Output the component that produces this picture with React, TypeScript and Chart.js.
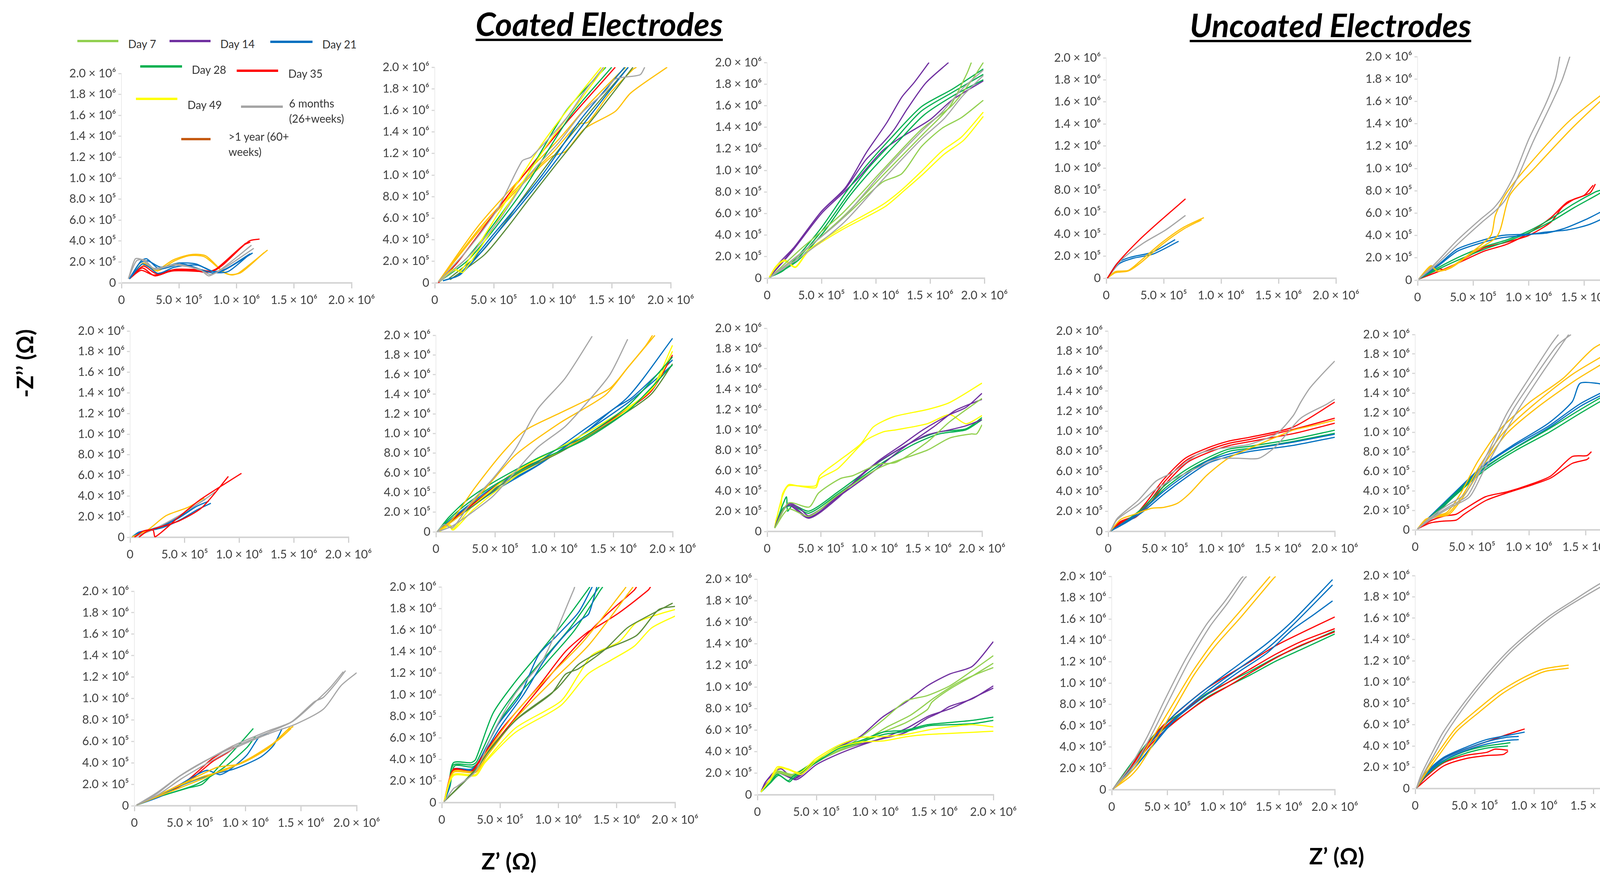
import React, { useEffect, useRef } from 'react';
import { Chart, registerables } from 'chart.js';

Chart.register(...registerables);

// Values are in units of 10^5 Ω (Z' on x, -Z'' on y)
const COLORS: Record<string, string> = {
  d7: '#92D050',
  d14: '#7030A0',
  d21: '#0070C0',
  d28: '#00B050',
  d35: '#FF0000',
  d49: '#FFFF00',
  m6: '#A5A5A5',
  y1: '#C55A11',
  gold: '#FFC000',
  olive: '#5B8C3A',
};

const legendItems = [
  { key: 'd7', label: ['Day 7'] },
  { key: 'd14', label: ['Day 14'] },
  { key: 'd21', label: ['Day 21'] },
  { key: 'd28', label: ['Day 28'] },
  { key: 'd35', label: ['Day 35'] },
  { key: 'd49', label: ['Day 49'] },
  { key: 'm6', label: ['6 months', '(26+weeks)'] },
  { key: 'y1', label: ['>1 year (60+', 'weeks)'] },
];

const xTickValues = [0, 5, 10, 15, 20];
const xTickLabels = ['0', '5.0 × 10⁵', '1.0 × 10⁶', '1.5 × 10⁶', '2.0 × 10⁶'];
const yTickValues = [0, 2, 4, 6, 8, 10, 12, 14, 16, 18, 20];
const yTickLabels = ['0', '2.0 × 10⁵', '4.0 × 10⁵', '6.0 × 10⁵', '8.0 × 10⁵', '1.0 × 10⁶', '1.2 × 10⁶', '1.4 × 10⁶', '1.6 × 10⁶', '1.8 × 10⁶', '2.0 × 10⁶'];

type Line = [string, number[][]];

// ---------- Coated electrodes ----------
const panel1: Line[] = [
  ['m6', [[0.6,0.4],[1.2,2.3],[1.8,2.2],[2.8,1.4],[4.6,1.7],[6.8,1.3],[7.6,0.67],[8.9,1.5],[11.3,3.6]]],
  ['m6', [[0.6,0.4],[1.3,2.1],[2.0,2.2],[2.9,1.3],[4.8,1.8],[6.9,1.2],[7.8,0.8],[9.2,1.6],[11.5,3.3]]],
  ['d21', [[0.67,0.38],[1.7,2.1],[2.2,2.3],[3.3,1.33],[5.3,1.8],[7.9,0.95],[8.9,1.2],[11.4,2.86]]],
  ['d21', [[0.7,0.4],[1.6,1.9],[2.3,2.1],[3.4,1.5],[5.0,1.9],[6.5,1.8],[7.9,1.1],[9.0,1.3],[11.2,2.8]]],
  ['d21', [[0.7,0.4],[1.8,1.8],[2.4,1.5],[3.2,0.9],[4.6,1.5],[6.6,1.7],[8.2,1.0],[9.3,1.1],[11.0,2.6]]],
  ['d35', [[0.7,0.4],[1.8,1.43],[2.9,0.67],[4.6,1.24],[6.8,1.14],[7.6,1.05],[8.5,1.52],[11.1,4.0],[12.0,4.19]]],
  ['d35', [[0.7,0.4],[1.9,1.6],[3.0,0.9],[4.7,1.3],[6.9,1.25],[7.9,1.1],[8.8,1.7],[10.8,3.8]]],
  ['d35', [[0.7,0.4],[1.7,1.2],[2.8,0.75],[4.5,1.15],[6.7,1.1],[7.4,1.0],[8.2,1.3],[10.6,3.6],[11.2,3.9]]],
  ['gold', [[0.8,0.5],[1.9,1.9],[3.1,1.14],[4.6,2.1],[5.9,2.6],[7.2,2.5],[8.9,1.0],[9.6,0.76],[10.2,0.95],[12.7,3.14]]],
  ['gold', [[0.8,0.5],[2.0,1.7],[3.0,1.2],[4.5,2.2],[6.0,2.7],[7.3,2.6],[8.7,1.2],[9.4,0.8],[10.4,1.0],[12.4,2.9]]],
];

const panel2: Line[] = [
  ['m6', [[0.3,0.1],[2.8,3.1],[5.3,6.8],[7.4,11.3],[8.2,11.7],[11.1,15.2],[12.8,17.9],[14.3,20]]],
  ['m6', [[0.4,0.1],[3.0,2.6],[5.5,5.9],[8.0,10.0],[10.5,13.0],[12.5,15.8],[14.5,17.8],[15.3,18.9],[17.4,19.3],[17.8,20]]],
  ['d49', [[0.4,0.1],[1.6,1.3],[2.2,1.1],[5.3,6.3],[9.1,12.9],[12.2,17.4],[14.1,20]]],
  ['d49', [[0.4,0.1],[1.7,1.2],[2.4,1.0],[5.6,6.2],[9.4,12.6],[12.5,17.2],[14.4,20]]],
  ['d28', [[0.4,0.2],[2.8,2.4],[7.0,8.5],[11.1,15.9],[14.5,20]]],
  ['d28', [[0.5,0.2],[3.0,2.3],[7.3,8.3],[11.5,15.5],[15.0,20]]],
  ['d35', [[0.3,0],[2.0,2.0],[6.6,8.7],[11.1,14.8],[15.3,20]]],
  ['d21', [[0.7,0.2],[2.0,0.7],[4.9,4.4],[9.1,10],[12.4,15.2],[16.1,20]]],
  ['d21', [[0.7,0.2],[2.2,0.8],[5.2,4.5],[9.4,10.1],[12.8,15.0],[16.4,20]]],
  ['olive', [[1.2,0.4],[3.9,2.8],[5.9,5.5],[7.4,7.8],[9.9,11.5],[13.2,15.9],[16.4,20]]],
  ['olive', [[1.3,0.3],[4.2,2.6],[6.2,5.2],[7.8,7.5],[10.3,11.0],[13.6,15.5],[16.8,20]]],
  ['gold', [[0.3,0.1],[3.9,5.0],[7.4,9.1],[9.9,11.7],[11.1,12.2],[12.7,14.3],[15.3,15.9],[16.6,17.6],[19.7,20]]],
  ['gold', [[0.3,0.1],[3.9,5.2],[7.4,9.3],[10.1,12.2],[12.1,14.7],[13,14.9],[14.7,17.4],[16.8,19.8],[17.1,20]]],
  ['gold', [[0.3,0.1],[3.7,5.3],[7.2,9.6],[10.5,13.3],[13.0,16.5],[15.5,19.3],[16.2,20]]],
];

const panel3: Line[] = [
  ['m6', [[0.3,0.1],[3.2,2.4],[6.9,5.5],[10.6,9.8],[14.2,13.6],[16.1,15.4],[17.9,17.5],[19.9,19.3]]],
  ['m6', [[0.3,0.1],[3.4,2.2],[7.1,5.2],[10.8,9.3],[14.2,12.9],[16.3,14.8],[18.0,16.9],[19.9,18.8]]],
  ['d7', [[0.3,0.1],[3.2,2.8],[6.9,6.0],[10.6,10.0],[14.2,13.8],[17.0,16.0],[18.8,18.3],[19.9,20]]],
  ['d7', [[0.3,0.1],[3.2,2.4],[6.9,5.5],[10.6,8.9],[12.4,9.7],[14.2,12.2],[16.1,13.9],[17.9,14.9],[19.9,16.5]]],
  ['d7', [[0.3,0.1],[3.4,2.5],[7.1,5.8],[10.8,9.7],[14.4,13.4],[16.8,15.9],[18.4,19.0],[18.8,20]]],
  ['d49', [[0.2,0.1],[0.8,1.1],[1.6,1.7],[2.6,1.05],[3.8,2.6],[6.9,4.7],[10.6,6.8],[12.4,8.2],[14.2,9.9],[16.1,11.8],[17.9,13.1],[19.9,15.4]]],
  ['d49', [[0.2,0.1],[0.8,1.0],[1.6,1.6],[2.6,1.0],[3.8,2.5],[6.9,4.5],[10.8,6.6],[12.7,8.2],[14.4,9.7],[16.3,11.5],[18.1,12.8],[19.9,15.0]]],
  ['d28', [[0.2,0.1],[1.4,0.65],[2.7,1.9],[5.0,4.7],[7.2,7.9],[9.1,10.4],[11.5,13.1],[14.2,15.9],[17.0,17.5],[19.9,19.4]]],
  ['d28', [[0.2,0.1],[1.3,0.6],[2.8,1.8],[5.2,4.6],[7.4,7.7],[9.3,10.2],[11.7,12.8],[14.2,15.5],[17.0,17.2],[19.9,18.9]]],
  ['d28', [[0.2,0.1],[1.4,0.7],[2.9,1.7],[5.3,4.4],[7.5,7.5],[9.5,9.9],[11.9,12.5],[14.4,15.1],[17.1,16.9],[19.9,18.4]]],
  ['d14', [[0.2,0.1],[1.0,1.3],[2.5,2.9],[5.0,6.2],[7.2,8.4],[9.1,11.6],[11.0,14.4],[12.4,16.8],[13.5,18.1],[14.9,20]]],
  ['d14', [[0.2,0.1],[2.3,2.6],[5.0,6.2],[7.2,8.3],[9.1,11.0],[10.6,12.5],[11.7,13.8],[12.9,15.7],[14.6,18.1],[16.7,20]]],
  ['d14', [[0.2,0.1],[2.3,2.5],[5.0,6.0],[7.2,8.1],[8.3,9.2],[10.6,11.8],[12.4,13.1],[15.0,14.7],[17.0,16.5],[19.9,18.3]]],
];

const panel6: Line[] = [
  ['d35', [[0.4,0],[1.2,0.6],[2.1,0.7],[2.3,0.05],[4.5,2.0],[6.5,3.7],[10.2,6.2]]],
  ['d35', [[0.8,0],[1.6,0.6],[4.5,1.6],[6.6,2.9],[9.0,5.9]]],
  ['m6', [[0.4,0.05],[2.0,0.7],[4.5,2.1],[7.0,3.8],[7.8,4.4]]],
  ['gold', [[0.2,0.05],[1.6,0.7],[3.3,2.1],[5.3,2.9],[6.8,3.8]]],
  ['d21', [[0.2,0.05],[0.8,0.5],[1.6,0.65],[2.9,1.06],[4.5,1.9],[6.1,3.0],[7.2,3.5]]],
  ['d21', [[0.2,0.05],[0.8,0.45],[1.6,0.6],[3.0,0.95],[4.6,1.7],[6.2,2.7],[7.4,3.3]]],
  ['d21', [[0.2,0.05],[0.9,0.5],[1.7,0.7],[3.1,1.2],[4.7,2.1],[6.0,3.1],[6.9,3.7]]],
];

const panel7: Line[] = [
  ['m6', [[0.1,0],[0.7,0.75],[1.4,0.4],[3.0,3.05],[4.8,5.4],[6.7,8.4],[8.6,12.5],[10.9,15.6],[13.2,19.9]]],
  ['m6', [[0.1,0],[1.4,0.6],[3.3,2.2],[4.8,3.6],[6.7,6.1],[8.6,8.6],[10.9,10.7],[12.8,13.2],[14.7,16.0],[16.2,19.6]]],
  ['gold', [[0.1,0],[1.4,1.3],[3.3,4.5],[5.6,8.0],[7.5,10.3],[10.5,12.1],[12.4,13.2],[14.7,14.6],[16.2,16.7],[18.5,20]]],
  ['gold', [[0.1,0],[1.8,1.45],[4.1,4.3],[6.7,7.8],[10.5,11.1],[14.3,13.9],[16.2,16.7],[17.7,18.9],[18.3,20]]],
  ['d28', [[0.1,0],[1.1,1.5],[2.6,3.2],[4.8,5.0],[8.6,7.5],[12.4,9.6],[16.2,12.8],[20,17.8]]],
  ['d28', [[0.1,0],[1.2,1.4],[2.8,3.0],[5.0,4.8],[8.8,7.3],[12.6,9.4],[16.4,12.5],[20,17.0]]],
  ['olive', [[0.1,0],[3.0,2.5],[6.7,5.8],[10.5,8.1],[14.3,10.8],[18.1,13.9],[20,17.1]]],
  ['d49', [[0.3,0],[1.1,0.75],[1.4,0.2],[3.0,2.5],[6.7,6.1],[10.5,8.6],[14.3,11.2],[18.1,14.4],[20,19.0]]],
  ['d49', [[0.3,0],[1.2,0.7],[1.5,0.2],[3.2,2.3],[6.9,5.8],[10.7,8.3],[14.5,11.0],[18.3,14.6],[20,18.4]]],
  ['d35', [[0.1,0],[3.0,2.7],[6.7,6.1],[10.5,8.2],[14.3,11.0],[18.1,14.2],[20,18.0]]],
  ['d21', [[0.1,0],[1.8,1.8],[4.8,4.5],[8.6,7.1],[12.4,10.3],[16.2,13.7],[20,19.7]]],
  ['d21', [[0.1,0],[1.8,1.7],[4.8,4.3],[8.6,6.8],[12.4,9.9],[15.0,12.5],[16.5,13.6],[18.5,15.8],[20,17.5]]],
  ['d21', [[0.1,0],[1.9,1.6],[5.0,4.2],[8.8,6.9],[12.6,10.1],[16.4,13.3],[20,17.0]]],
];

const panel8: Line[] = [
  ['d7', [[0.7,0.34],[2.0,2.8],[3.9,2.4],[4.8,3.8],[6.8,5.2],[8.0,5.5],[10.3,6.6],[12.0,6.8],[14.9,8.8],[17.0,10.8],[20,13.1]]],
  ['d7', [[0.7,0.34],[2.0,2.2],[3.9,1.5],[6.6,3.6],[10.5,6.3],[14.9,8.0],[17.0,9.2],[19.0,9.6],[19.5,9.6],[20,10.5]]],
  ['d14', [[0.7,0.34],[1.15,1.5],[2.0,2.8],[3.0,2.3],[3.9,1.55],[6.6,3.5],[10.3,6.9],[12.5,8.5],[14.5,10.0],[17.0,11.5],[18.5,12.2],[20,13.6]]],
  ['d14', [[0.7,0.34],[1.15,1.5],[2.0,2.6],[3.9,1.3],[6.6,3.3],[9.1,5.9],[11.8,7.8],[14.9,9.5],[17.0,10.0],[18.5,10.4],[20,11.0]]],
  ['d14', [[0.7,0.34],[2.0,2.7],[3.9,1.4],[6.6,3.4],[10.0,6.0],[12.5,8.1],[15.5,10.3],[17.5,11.9],[20,13.0]]],
  ['d28', [[0.7,0.34],[1.4,2.5],[1.8,3.4],[1.9,2.0],[2.4,2.6],[3.9,2.0],[6.6,3.9],[10.5,6.9],[13.5,8.8],[16.0,9.8],[18.5,10.1],[20,11.2]]],
  ['d28', [[0.7,0.34],[1.5,2.3],[2.4,2.5],[3.9,1.8],[6.6,3.7],[10.5,6.6],[13.5,8.5],[16.0,9.6],[18.5,10.0],[20,11.0]]],
  ['d49', [[0.7,0.34],[0.9,1.37],[1.25,1.7],[1.4,3.6],[2.0,4.6],[2.8,4.5],[4.5,4.5],[4.9,5.5],[6.6,6.9],[8.7,8.6],[9.9,10.3],[11.8,11.3],[14.9,12.0],[17.0,12.7],[20,14.6]]],
  ['d49', [[0.7,0.34],[0.9,1.37],[1.4,3.4],[2.0,4.5],[4.5,4.3],[4.9,5.2],[6.6,6.2],[9.1,8.9],[10.8,9.8],[12.0,10.0],[14.9,10.6],[17.0,11.5],[18.5,10.6],[20,11.4]]],
];

const panel11: Line[] = [
  ['m6', [[0.2,0.07],[2.0,1.1],[4.0,2.7],[6.1,4.0],[8.9,5.6],[12.1,7.0],[14.1,7.8],[16.2,9.7],[17.0,10.1],[18.2,11.5],[19.0,12.6]]],
  ['m6', [[0.2,0.07],[2.1,1.0],[4.2,2.5],[6.3,3.8],[9.1,5.4],[12.3,6.8],[14.5,7.6],[17.0,9.0],[18.6,11.2],[20,12.4]]],
  ['m6', [[0.2,0.07],[2.0,1.2],[4.1,2.8],[6.2,4.1],[9.0,5.5],[12.2,6.9],[14.3,7.9],[16.4,9.8],[17.6,11.0],[18.8,12.5]]],
  ['gold', [[0.2,0.07],[3.2,1.3],[6.1,2.5],[8.1,3.4],[9.7,4.0],[12.1,5.4],[13.7,7.0],[14.3,7.4]]],
  ['gold', [[0.2,0.07],[3.2,1.5],[6.1,2.7],[8.1,3.3],[10.5,4.5],[12.9,6.1],[14.1,7.2]]],
  ['gold', [[0.2,0.07],[3.0,1.4],[6.0,2.9],[7.5,3.6],[9.5,3.9],[11.8,5.2],[13.3,6.6],[14.0,7.3]]],
  ['d21', [[0.2,0.07],[2.4,0.9],[4.8,2.4],[6.5,3.3],[7.7,2.9],[8.5,3.3],[10.1,4.7],[11.3,6.5],[12.1,6.7]]],
  ['d21', [[0.2,0.07],[4.0,1.8],[6.9,2.9],[8.9,3.4],[11.3,4.5],[12.5,5.6],[13.3,7.2]]],
  ['d28', [[0.2,0.07],[2.4,0.9],[4.8,1.65],[6.1,2.0],[7.3,3.3],[8.9,5.1],[10.7,7.2]]],
  ['d28', [[0.2,0.07],[2.4,0.9],[5.6,2.0],[8.1,3.6],[10.1,5.4],[10.9,6.5]]],
  ['d35', [[0.2,0.07],[2.4,1.1],[4.8,2.4],[6.9,4.3],[8.1,5.1],[8.9,5.6]]],
  ['d35', [[0.2,0.07],[2.5,1.0],[4.9,2.3],[7.0,4.1],[8.3,4.9],[9.0,5.4]]],
];

const panel12: Line[] = [
  ['m6', [[0.2,0.1],[1.0,1.3],[1.3,1.5],[2.9,2.9],[4.4,6.5],[6.3,10.1],[8.7,13.3],[11.3,19.7],[11.4,20]]],
  ['olive', [[0.2,0.1],[2.9,3.1],[4.0,4.7],[6.3,7.6],[9.4,10.1],[10.6,11.9],[11.7,12.4],[14.0,14.2],[15.9,16.2],[17.5,17.2],[19.8,18.5]]],
  ['olive', [[0.2,0.1],[2.9,3.0],[4.3,5.2],[6.7,8.0],[9.8,10.5],[11.7,12.8],[14.0,14.2],[16.7,15.5],[18.6,17.9],[20,18.2]]],
  ['d49', [[0.2,0.1],[1.0,2.6],[2.9,2.6],[3.7,3.8],[6.3,6.9],[10.2,9.4],[11.7,11.8],[12.9,13.7],[15.2,14.9],[16.7,16.7],[19.0,17.6],[20,17.9]]],
  ['d49', [[0.2,0.1],[1.0,2.5],[2.9,2.5],[3.7,3.7],[6.3,6.5],[10.2,9.0],[12.5,11.9],[14.5,13.2],[16.5,14.5],[18.0,16.2],[20,17.3]]],
  ['gold', [[0.2,0.1],[1.0,2.9],[2.9,2.9],[3.7,4.4],[6.3,8.3],[9.0,11.5],[12.1,14.9],[15.6,19.7],[15.8,20]]],
  ['gold', [[0.2,0.1],[1.0,2.8],[2.9,2.8],[3.8,4.2],[6.5,8.0],[9.4,11.2],[12.6,14.6],[16.2,19.7],[16.4,20]]],
  ['d35', [[0.2,0.1],[1.0,3.1],[2.5,2.9],[3.1,3.7],[5.2,6.9],[8.3,10.8],[10.6,14.0],[12.5,15.8],[13.3,16.3],[15.2,17.6],[17.7,19.7],[17.9,20]]],
  ['d35', [[0.2,0.1],[1.0,3.0],[2.5,2.8],[3.1,3.6],[5.5,6.8],[8.6,10.9],[11.5,14.5],[14.0,17.3],[16.5,19.7],[16.7,20]]],
  ['d21', [[0.2,0.1],[0.6,1.3],[1.0,3.1],[2.5,3.1],[3.1,3.7],[4.8,7.2],[6.7,9.9],[8.3,13.7],[9.8,15.4],[11.7,17.6],[12.9,20]]],
  ['d21', [[0.2,0.1],[0.6,1.2],[1.0,3.0],[2.5,3.0],[3.1,3.6],[5.0,7.0],[7.0,10.0],[8.8,13.2],[10.6,15.6],[12.0,17.0],[12.6,17.5],[13.3,20]]],
  ['d28', [[0.2,0.1],[0.6,1.7],[1.0,3.7],[2.5,3.7],[2.9,4.0],[4.4,8.3],[6.3,11.2],[8.3,13.8],[10.6,16.9],[12.5,19.7],[12.7,20]]],
  ['d28', [[0.2,0.1],[0.6,1.6],[1.0,3.5],[2.6,3.5],[3.0,3.8],[4.8,7.9],[6.7,10.8],[8.7,13.3],[11.0,16.2],[13.3,19.7],[13.5,20]]],
  ['d28', [[0.2,0.1],[0.7,1.5],[1.1,3.4],[2.6,3.3],[3.1,3.7],[5.0,7.6],[7.0,10.5],[9.0,13.0],[11.4,16.0],[13.6,19.7],[13.8,20]]],
];

const panel13: Line[] = [
  ['d49', [[0.3,0.27],[1.1,1.5],[1.7,2.6],[2.6,2.4],[3.6,2.05],[4.9,3.3],[6.8,4.55],[8.7,5.3],[10.6,5.4],[12.6,5.6],[14.4,6.0],[16.3,6.3],[18.2,6.5],[20,6.3]]],
  ['d49', [[0.3,0.27],[1.1,1.4],[1.8,2.5],[2.7,2.3],[3.7,1.9],[5.0,3.2],[6.9,4.4],[8.8,4.9],[10.7,5.0],[12.7,5.4],[14.5,5.6],[16.4,5.7],[18.3,5.8],[20,5.9]]],
  ['d28', [[0.3,0.27],[1.1,1.16],[1.7,1.9],[2.6,1.3],[3.0,1.7],[4.9,3.1],[6.8,4.4],[8.7,5.0],[10.6,5.8],[12.6,6.0],[14.4,6.5],[16.3,6.7],[18.2,6.9],[20,7.2]]],
  ['d28', [[0.3,0.27],[1.1,1.1],[1.8,1.8],[2.7,1.2],[3.1,1.6],[5.0,3.0],[6.9,4.3],[8.8,4.9],[10.7,5.6],[12.7,5.9],[14.5,6.4],[16.4,6.5],[18.3,6.6],[20,6.9]]],
  ['d7', [[0.3,0.27],[1.1,1.16],[1.7,2.2],[3.0,1.9],[4.9,3.1],[6.8,4.0],[8.7,5.3],[10.6,6.9],[12.6,8.7],[14.4,9.2],[16.3,10.1],[18.2,11.5],[20,12.9]]],
  ['d7', [[0.3,0.27],[1.7,2.1],[3.0,1.8],[4.9,3.1],[6.8,4.0],[8.7,4.8],[10.6,5.8],[12.6,6.7],[14.4,7.9],[14.8,8.6],[16.3,9.8],[18.2,11.0],[20,12.2]]],
  ['d7', [[0.3,0.27],[1.7,2.0],[3.0,1.7],[5.0,3.0],[7.0,4.2],[9.0,5.0],[11.0,6.3],[13.0,7.4],[15.0,9.0],[17.0,10.4],[18.6,11.2],[20,11.8]]],
  ['d14', [[0.3,0.27],[0.7,1.2],[1.5,2.2],[2.05,2.4],[3.0,1.5],[3.4,1.7],[4.9,3.1],[6.8,4.4],[8.7,5.4],[10.6,7.2],[12.6,8.6],[14.4,10.1],[16.3,11.2],[18.2,11.9],[20,14.2]]],
  ['d14', [[0.3,0.27],[0.7,1.2],[1.7,2.1],[3.2,1.5],[4.9,2.95],[6.8,4.0],[8.7,4.7],[10.6,5.2],[12.6,5.8],[14.4,7.1],[15.4,7.6],[16.3,8.2],[18.2,8.9],[20,10.1]]],
  ['d14', [[0.3,0.27],[0.8,1.1],[1.8,2.0],[3.3,1.4],[5.0,2.8],[6.9,3.8],[8.8,4.6],[10.7,5.3],[12.7,6.2],[14.5,7.3],[16.4,8.0],[18.3,9.0],[20,9.9]]],
];

// ---------- Uncoated electrodes ----------
const panel4: Line[] = [
  ['d35', [[0.1,0],[1.0,1.4],[2.9,3.5],[4.8,5.3],[6.9,7.2]]],
  ['m6', [[0.1,0],[1.35,1.7],[3.25,3.2],[5.2,4.4],[6.9,5.7]]],
  ['gold', [[0.2,0.1],[0.8,0.6],[1.9,0.7],[2.9,1.5],[4.8,3.2],[6.7,4.6],[8.5,5.5]]],
  ['gold', [[0.2,0.1],[0.8,0.5],[1.9,0.65],[3.0,1.4],[4.9,3.1],[6.8,4.5],[8.3,5.3]]],
  ['d21', [[0.1,0],[1.0,1.4],[2.1,1.9],[4.0,2.35],[6.0,3.5]]],
  ['d21', [[0.1,0],[1.1,1.3],[2.3,1.8],[4.1,2.2],[6.3,3.35]]],
];

const panel5: Line[] = [
  ['m6', [[0.1,0.1],[1.6,1.5],[3.6,3.6],[5.6,5.4],[6.8,6.4],[7.6,7.4],[8.7,9.4],[10.0,12.6],[11.5,15.7],[12.4,18.0],[12.8,20]]],
  ['m6', [[0.1,0.1],[1.7,1.4],[3.8,3.4],[5.8,5.2],[7.0,6.2],[7.9,7.2],[9.0,9.2],[10.4,12.4],[11.9,15.5],[13.0,17.9],[13.7,20]]],
  ['gold', [[0.1,0.1],[1.2,1.3],[1.8,0.8],[3.0,1.2],[5.0,2.6],[6.6,4.0],[7.0,5.8],[8.0,7.8],[10.0,10.3],[13.5,14.1],[16.7,16.7],[20,19.0]]],
  ['gold', [[0.1,0.1],[1.2,1.2],[1.8,0.8],[3.0,1.1],[5.0,2.5],[7.2,4.0],[8.3,7.6],[10.5,10.0],[14,13.7],[17,16.5],[20,18.9]]],
  ['d21', [[0.1,0.1],[2.0,1.5],[3.6,2.8],[5.6,3.5],[7.6,4.0],[9.5,4.1],[11.5,4.2],[13.1,4.6],[13.9,4.9],[15.5,5.6],[17.5,6.7],[20,8.9]]],
  ['d21', [[0.1,0.1],[2.0,1.4],[3.6,2.6],[5.6,3.3],[7.6,3.8],[9.5,4.0],[11.5,4.3],[13.5,4.5],[15.5,5.0],[17.5,6.0],[19.0,7.6]]],
  ['d28', [[0.1,0.1],[2.0,1.2],[4.0,2.2],[6.0,3.0],[8.0,3.6],[10.0,4.4],[12.0,5.5],[14.0,6.8],[16.0,7.9],[16.8,8.2],[16.9,8.8]]],
  ['d28', [[0.1,0.1],[2.1,1.1],[4.1,2.0],[6.1,2.8],[8.1,3.5],[10.1,4.3],[12.1,5.3],[14.1,6.5],[16.1,7.6],[16.6,7.9]]],
  ['d35', [[0.1,0.1],[2.0,1.0],[2.5,0.9],[4.0,1.8],[6.0,2.9],[8.0,3.4],[10.0,4.0],[12.0,5.2],[13.0,6.5],[14.0,7.2],[15.0,7.6],[15.8,8.5]]],
  ['d35', [[0.1,0.1],[2.2,0.9],[4.0,1.7],[6.0,2.6],[8.0,3.2],[10.0,4.2],[12.0,5.6],[13.5,7.0],[15.5,7.8],[16.0,8.6]]],
];

const panel9: Line[] = [
  ['m6', [[0.2,0.03],[0.8,1.3],[2.65,3.1],[4.2,5.0],[5.7,5.9],[7.9,7.7],[9.5,8.2],[11.4,8.5],[12.5,8.7],[14.8,9.7],[16.3,11.5],[17.0,12.9],[17.8,14.3],[18.9,15.7],[20,17.0]]],
  ['m6', [[0.2,0.03],[0.8,1.2],[2.65,2.7],[4.2,4.2],[5.7,5.2],[7.6,6.2],[9.5,7.2],[11.4,7.3],[13.3,7.3],[14.8,8.5],[17.0,11.3],[19.3,12.7],[20,13.2]]],
  ['gold', [[0.2,0.03],[1.1,1.2],[2.3,1.7],[3.8,2.3],[4.9,2.4],[6.1,2.8],[7.2,3.8],[8.7,5.6],[10.6,7.3],[12.5,8.3],[14.8,9.4],[16.3,10.1],[18.2,10.6],[20,11.1]]],
  ['d21', [[0.2,0.03],[1.5,0.96],[3.0,2.1],[4.9,4.0],[6.8,5.6],[8.7,7.0],[10.6,7.7],[12.5,8.2],[16.3,8.9],[20,9.7]]],
  ['d21', [[0.2,0.03],[1.6,0.9],[3.1,2.0],[5.0,3.8],[6.9,5.4],[8.8,6.8],[10.7,7.5],[12.6,8.0],[16.4,8.6],[20,9.4]]],
  ['d28', [[0.2,0.03],[1.5,1.0],[3.0,2.3],[4.9,4.5],[6.8,6.1],[8.7,7.3],[10.6,8.2],[12.5,8.5],[16.3,9.2],[20,10.1]]],
  ['d28', [[0.2,0.03],[1.5,0.95],[3.1,2.2],[5.0,4.3],[6.9,5.9],[8.8,7.1],[10.7,8.0],[12.6,8.3],[16.4,9.0],[20,9.8]]],
  ['d35', [[0.2,0.03],[1.1,1.0],[2.3,1.55],[3.4,2.96],[4.9,5.2],[6.8,7.3],[8.7,8.3],[10.6,9.0],[12.5,9.4],[16.3,10.4],[20,12.9]]],
  ['d35', [[0.2,0.03],[1.1,0.95],[2.3,1.5],[3.5,2.8],[5.0,5.0],[6.9,7.1],[8.8,8.1],[10.7,8.8],[12.6,9.2],[16.4,10.2],[20,11.3]]],
  ['d35', [[0.2,0.03],[1.2,0.9],[2.4,1.4],[3.6,2.7],[5.1,4.8],[7.0,6.9],[8.9,7.9],[10.8,8.6],[12.7,9.0],[16.5,9.8],[20,10.8]]],
];

const panel10: Line[] = [
  ['m6', [[0.2,0.1],[1.3,1.25],[2.8,2.5],[4.3,3.6],[5.5,5.9],[6.6,8.4],[8.1,12.0],[10.0,15.5],[11.9,18.9],[12.6,20]]],
  ['m6', [[0.2,0.1],[1.4,1.2],[3.0,2.4],[4.6,3.5],[5.8,6.2],[7.0,8.8],[8.6,12.3],[10.6,15.8],[12.5,18.9],[13.7,20]]],
  ['m6', [[0.2,0.1],[1.4,1.1],[3.1,2.3],[4.8,3.4],[6.0,6.0],[7.2,8.5],[8.9,12.0],[10.9,15.6],[12.9,19.0],[13.5,20]]],
  ['gold', [[0.2,0.1],[0.9,1.07],[1.7,1.4],[2.8,1.8],[4.0,3.75],[5.5,7.0],[7.4,10.2],[10.0,13.0],[13.0,15.5],[15.7,18.6],[18.1,20]]],
  ['gold', [[0.2,0.1],[0.9,1.0],[1.7,1.3],[2.9,1.7],[4.2,3.6],[5.8,6.8],[7.8,10.0],[10.4,12.8],[13.8,15.9],[16.8,18.0],[19.8,20]]],
  ['gold', [[0.2,0.1],[0.9,1.0],[1.8,1.3],[3.0,1.6],[4.3,3.5],[6.0,6.6],[8.0,9.8],[10.7,12.5],[14.2,15.4],[17.3,17.6],[19.8,19.6]]],
  ['d28', [[0.2,0.1],[1.5,1.5],[3.4,3.6],[6.0,6.3],[8.7,8.3],[11.7,10.3],[14.5,12.3],[17.2,14.1],[20,15.6]]],
  ['d28', [[0.2,0.1],[1.6,1.4],[3.5,3.5],[6.1,6.1],[8.8,8.1],[11.8,10.0],[14.6,12.0],[17.3,13.8],[20,15.3]]],
  ['d21', [[0.2,0.1],[1.5,1.6],[3.4,3.75],[6.0,6.6],[8.7,8.75],[11.7,10.9],[13.8,13.1],[14.5,15.0],[16.0,15.0],[17.2,14.8],[20,16.25]]],
  ['d21', [[0.2,0.1],[1.5,1.6],[3.4,3.7],[6.0,6.5],[8.7,8.6],[11.7,10.6],[14.5,12.9],[17.2,14.5],[20,16.0]]],
  ['d21', [[0.2,0.1],[1.6,1.5],[3.5,3.6],[6.1,6.3],[8.8,8.4],[11.8,10.5],[14.6,12.7],[17.3,14.3],[20,15.8]]],
  ['d35', [[0.2,0.1],[1.3,0.9],[2.5,1.4],[3.6,1.6],[4.3,2.1],[6.2,3.4],[8.1,3.9],[10.0,4.6],[11.9,5.5],[13.8,7.5],[15.1,7.6],[15.5,8.0]]],
  ['d35', [[0.2,0.1],[1.3,0.7],[2.5,0.9],[3.6,1.0],[4.3,1.6],[6.2,3.0],[8.1,3.8],[10.0,4.5],[11.9,5.3],[13.8,6.8],[15.1,7.2],[15.3,7.4]]],
];

const panel14: Line[] = [
  ['m6', [[0.1,0.05],[1.6,2.1],[3.2,5.0],[4.7,8.3],[6.6,12.2],[8.5,15.5],[10.1,17.6],[11.6,19.8],[11.8,20]]],
  ['m6', [[0.1,0.05],[1.8,2.0],[3.4,4.8],[5.0,8.1],[6.9,12.0],[8.8,15.3],[10.4,17.5],[11.9,19.8],[12.1,20]]],
  ['gold', [[0.1,0.05],[1.6,1.2],[2.4,2.1],[3.5,3.9],[5.5,7.4],[7.4,10.8],[9.3,13.5],[11.6,16.2],[14.5,19.8],[14.7,20]]],
  ['gold', [[0.1,0.05],[1.4,1.3],[2.2,2.3],[3.3,4.2],[5.3,7.7],[7.2,11.0],[9.1,13.8],[11.4,16.6],[14.2,20]]],
  ['d21', [[0.1,0.05],[2.0,2.3],[3.9,5.0],[5.8,7.2],[8.5,9.5],[11.6,11.9],[13.9,13.7],[16.2,15.8],[19.8,19.7]]],
  ['d21', [[0.1,0.05],[2.0,2.0],[3.9,4.5],[5.8,6.8],[8.5,9.2],[11.6,11.5],[13.9,13.2],[16.2,15.4],[19.8,19.2]]],
  ['d21', [[0.1,0.05],[2.0,2.0],[3.9,4.4],[5.8,6.7],[8.5,8.9],[11.6,11.2],[13.9,12.8],[16.2,15.0],[18.1,16.4],[19.8,17.7]]],
  ['d35', [[0.1,0.05],[1.6,2.1],[3.2,4.3],[4.7,6.1],[6.6,7.9],[8.5,9.5],[10.5,10.8],[12.4,12.0],[14.7,13.5],[17.0,14.7],[20,16.2]]],
  ['d35', [[0.1,0.05],[1.6,2.0],[3.2,4.1],[4.7,5.8],[6.6,7.5],[8.5,8.9],[10.5,10.1],[12.4,11.3],[14.7,12.7],[17.0,13.9],[20,15.1]]],
  ['d35', [[0.1,0.05],[1.7,1.9],[3.3,4.0],[4.8,5.6],[6.7,7.2],[8.6,8.6],[10.6,9.8],[12.5,11.0],[14.8,12.4],[17.1,13.6],[20,14.8]]],
  ['d28', [[0.1,0.05],[1.6,2.25],[3.2,4.4],[4.7,6.1],[6.6,7.5],[8.5,9.0],[10.5,10.1],[12.4,11.1],[14.7,12.4],[17.0,13.5],[20,14.9]]],
  ['d28', [[0.1,0.05],[1.7,2.1],[3.3,4.2],[4.8,5.8],[6.7,7.2],[8.6,8.7],[10.6,9.8],[12.5,10.8],[14.8,12.1],[17.1,13.2],[20,14.6]]],
];

const panel15: Line[] = [
  ['m6', [[0.1,0.05],[0.5,1.3],[1.3,3.1],[2.35,5.3],[4.2,8.2],[6.0,10.7],[7.8,12.9],[9.6,14.7],[11.4,16.3],[13.2,17.6],[15.8,19.4],[17.6,20]]],
  ['m6', [[0.1,0.05],[0.6,1.2],[1.5,3.0],[2.6,5.2],[4.4,8.1],[6.2,10.6],[8.0,12.8],[9.8,14.6],[11.6,16.2],[13.4,17.5],[16.2,19.3],[17.9,20]]],
  ['gold', [[0.1,0.05],[0.9,1.7],[2.0,3.5],[3.4,5.65],[5.25,7.45],[7.1,9.1],[8.9,10.3],[10.7,11.2],[12.9,11.6]]],
  ['gold', [[0.1,0.05],[1.0,1.6],[2.1,3.3],[3.5,5.4],[5.4,7.2],[7.3,8.9],[9.1,10.1],[10.9,11.0],[12.9,11.3]]],
  ['d21', [[0.1,0.05],[0.9,1.5],[2.35,2.9],[4.2,3.85],[6.0,4.6],[7.8,5.0],[9.2,5.3]]],
  ['d21', [[0.1,0.05],[0.9,1.4],[2.4,2.8],[4.2,3.7],[6.0,4.4],[7.6,4.8],[8.7,4.9]]],
  ['d21', [[0.1,0.05],[1.0,1.4],[2.5,2.7],[4.3,3.6],[6.1,4.2],[7.6,4.5],[8.7,4.6]]],
  ['d28', [[0.1,0.05],[0.9,1.3],[2.35,2.6],[4.2,3.5],[6.0,4.0],[8.0,4.3]]],
  ['d28', [[0.1,0.05],[0.9,1.2],[2.4,2.5],[4.2,3.3],[6.0,3.8],[7.8,4.0]]],
  ['d35', [[0.1,0.05],[0.9,1.3],[2.35,2.8],[4.2,3.7],[6.0,4.4],[7.8,5.1],[9.2,5.6]]],
  ['d35', [[0.1,0.05],[0.9,1.1],[2.35,2.4],[4.2,3.1],[6.0,3.4],[6.7,3.7],[7.8,3.6]]],
  ['d35', [[0.1,0.05],[2.35,2.1],[4.2,2.8],[6.0,3.1],[7.4,3.2],[7.8,3.5]]],
];

// ---------- Layout (page pixels) ----------
// [plot left, plot right, plot top, plot bottom]
const PANELS: { lines: Line[]; box: number[] }[] = [
  { lines: panel1, box: [311, 900, 188, 724] },
  { lines: panel2, box: [1113, 1717, 172, 724] },
  { lines: panel3, box: [1964, 2520, 160, 712] },
  { lines: panel4, box: [2832, 3420, 148, 712] },
  { lines: panel5, box: [3629, 4198, 145, 717] },
  { lines: panel6, box: [333, 892, 847, 1375] },
  { lines: panel7, box: [1116, 1722, 858, 1361] },
  { lines: panel8, box: [1964, 2514, 840, 1360] },
  { lines: panel9, box: [2837, 3417, 847, 1360] },
  { lines: panel10, box: [3623, 4205, 856, 1356] },
  { lines: panel11, box: [344, 913, 1513, 2062] },
  { lines: panel12, box: [1131, 1728, 1502, 2054] },
  { lines: panel13, box: [1939, 2543, 1482, 2034] },
  { lines: panel14, box: [2846, 3417, 1475, 2021] },
  { lines: panel15, box: [3623, 4232, 1473, 2018] },
];

// legend geometry: [lineX1, lineX2, lineY, textX, textCenterY]
const LEGEND_POS = [
  [198, 303, 105, 328, 112],
  [434, 539, 105, 564, 112],
  [692, 800, 107, 825, 113],
  [359, 466, 170, 491, 178],
  [606, 712, 181, 738, 188],
  [348, 454, 253, 480, 268],
  [617, 724, 273, 740, 264],
  [464, 539, 356, 585, 349],
];

const FONT = "Lato, 'Open Sans', 'DejaVu Sans', sans-serif";
const PL = 200, PT = 24, PR = 80, PB = 72;
const TICK_COLOR = '#404040';

function Panel({ lines, box }: { lines: Line[]; box: number[] }) {
  const ref = useRef<HTMLCanvasElement | null>(null);
  const [l, r, t, b] = box;
  const W = r - l + PL + PR;
  const H = b - t + PT + PB;
  useEffect(() => {
    if (!ref.current) return;
    const chart = new Chart(ref.current, {
      type: 'scatter',
      data: {
        datasets: lines.map(([c, pts]) => ({
          data: pts.map(([x, y]) => ({ x, y })),
          borderColor: COLORS[c],
          backgroundColor: COLORS[c],
          borderWidth: 3,
          pointRadius: 0,
          showLine: true,
          tension: 0.25,
          fill: false,
        })),
      },
      options: {
        responsive: false,
        animation: false,
        devicePixelRatio: 1,
        layout: { padding: { top: PT, right: PR, left: 0, bottom: 0 } },
        plugins: { legend: { display: false }, tooltip: { enabled: false } },
        events: [],
        scales: {
          x: {
            type: 'linear',
            min: 0,
            max: 20,
            afterBuildTicks: (s: any) => { s.ticks = xTickValues.map((v) => ({ value: v })); },
            afterFit: (s: any) => { s.height = PB; },
            ticks: {
              autoSkip: false,
              maxRotation: 0,
              padding: 12,
              color: TICK_COLOR,
              font: { family: FONT, size: 30 },
              callback: (_v: any, i: number) => xTickLabels[i],
            },
            grid: { drawOnChartArea: false, drawTicks: true, tickLength: 14, color: '#d0d0d0', lineWidth: 3 },
            border: { display: true, color: '#d4d4d4', width: 4 },
          },
          y: {
            type: 'linear',
            min: 0,
            max: 20,
            afterBuildTicks: (s: any) => { s.ticks = yTickValues.map((v) => ({ value: v })); },
            afterFit: (s: any) => { s.width = PL; },
            ticks: {
              autoSkip: false,
              padding: 6,
              color: TICK_COLOR,
              font: { family: FONT, size: 30 },
              callback: (_v: any, i: number) => yTickLabels[i],
            },
            grid: { drawOnChartArea: false, drawTicks: true, tickLength: 8, color: '#d8d8d8', lineWidth: 3 },
            border: { display: true, color: '#ececec', width: 2 },
          },
        },
      } as any,
    });
    return () => chart.destroy();
  }, []);
  return (
    <canvas
      ref={ref}
      width={W}
      height={H}
      style={{ position: 'absolute', left: l - PL, top: t - PT, width: W, height: H }}
    />
  );
}

export default function App() {
  const titleStyle: React.CSSProperties = {
    position: 'absolute',
    transform: 'translateX(-50%)',
    fontFamily: FONT,
    fontWeight: 700,
    fontStyle: 'italic',
    fontSize: 83,
    lineHeight: 1.2,
    whiteSpace: 'nowrap',
    color: '#000',
    textDecoration: 'underline',
    textDecorationThickness: '6px',
    textUnderlineOffset: '7px',
  };
  const axisStyle: React.CSSProperties = {
    position: 'absolute',
    fontFamily: FONT,
    fontWeight: 700,
    fontSize: 58,
    lineHeight: 1.2,
    whiteSpace: 'nowrap',
    color: '#000',
  };
  return (
    <div style={{ position: 'absolute', left: 0, top: 0, width: 4373, height: 2252, background: '#fff', overflow: 'hidden' }}>
      {PANELS.map((p, i) => (
        <Panel key={i} lines={p.lines} box={p.box} />
      ))}
      <div style={{ ...titleStyle, left: 1534, top: 11 }}>Coated Electrodes</div>
      <div style={{ ...titleStyle, left: 3406, top: 14 }}>Uncoated Electrodes</div>
      <div style={{ ...axisStyle, left: 63, top: 930, transform: 'translate(-50%, -50%) rotate(-90deg)' }}>-Z’’ (Ω)</div>
      <div style={{ ...axisStyle, left: 1303, top: 2203, transform: 'translate(-50%, -50%)' }}>Z’ (Ω)</div>
      <div style={{ ...axisStyle, left: 3422, top: 2190, transform: 'translate(-50%, -50%)' }}>Z’ (Ω)</div>
      {legendItems.map((it, i) => {
        const [x1, x2, ly, tx, ty] = LEGEND_POS[i];
        const lh = it.label.length > 1 ? 39 : 34;
        return (
          <React.Fragment key={it.key}>
            <div style={{ position: 'absolute', left: x1, top: ly - 3, width: x2 - x1, height: 6, background: COLORS[it.key] }} />
            <div
              style={{
                position: 'absolute',
                left: tx,
                top: ty - lh / 2,
                fontFamily: FONT,
                fontSize: 28,
                lineHeight: `${lh}px`,
                color: '#333',
                whiteSpace: 'nowrap',
              }}
            >
              {it.label.map((s, k) => (
                <div key={k}>{s}</div>
              ))}
            </div>
          </React.Fragment>
        );
      })}
    </div>
  );
}
